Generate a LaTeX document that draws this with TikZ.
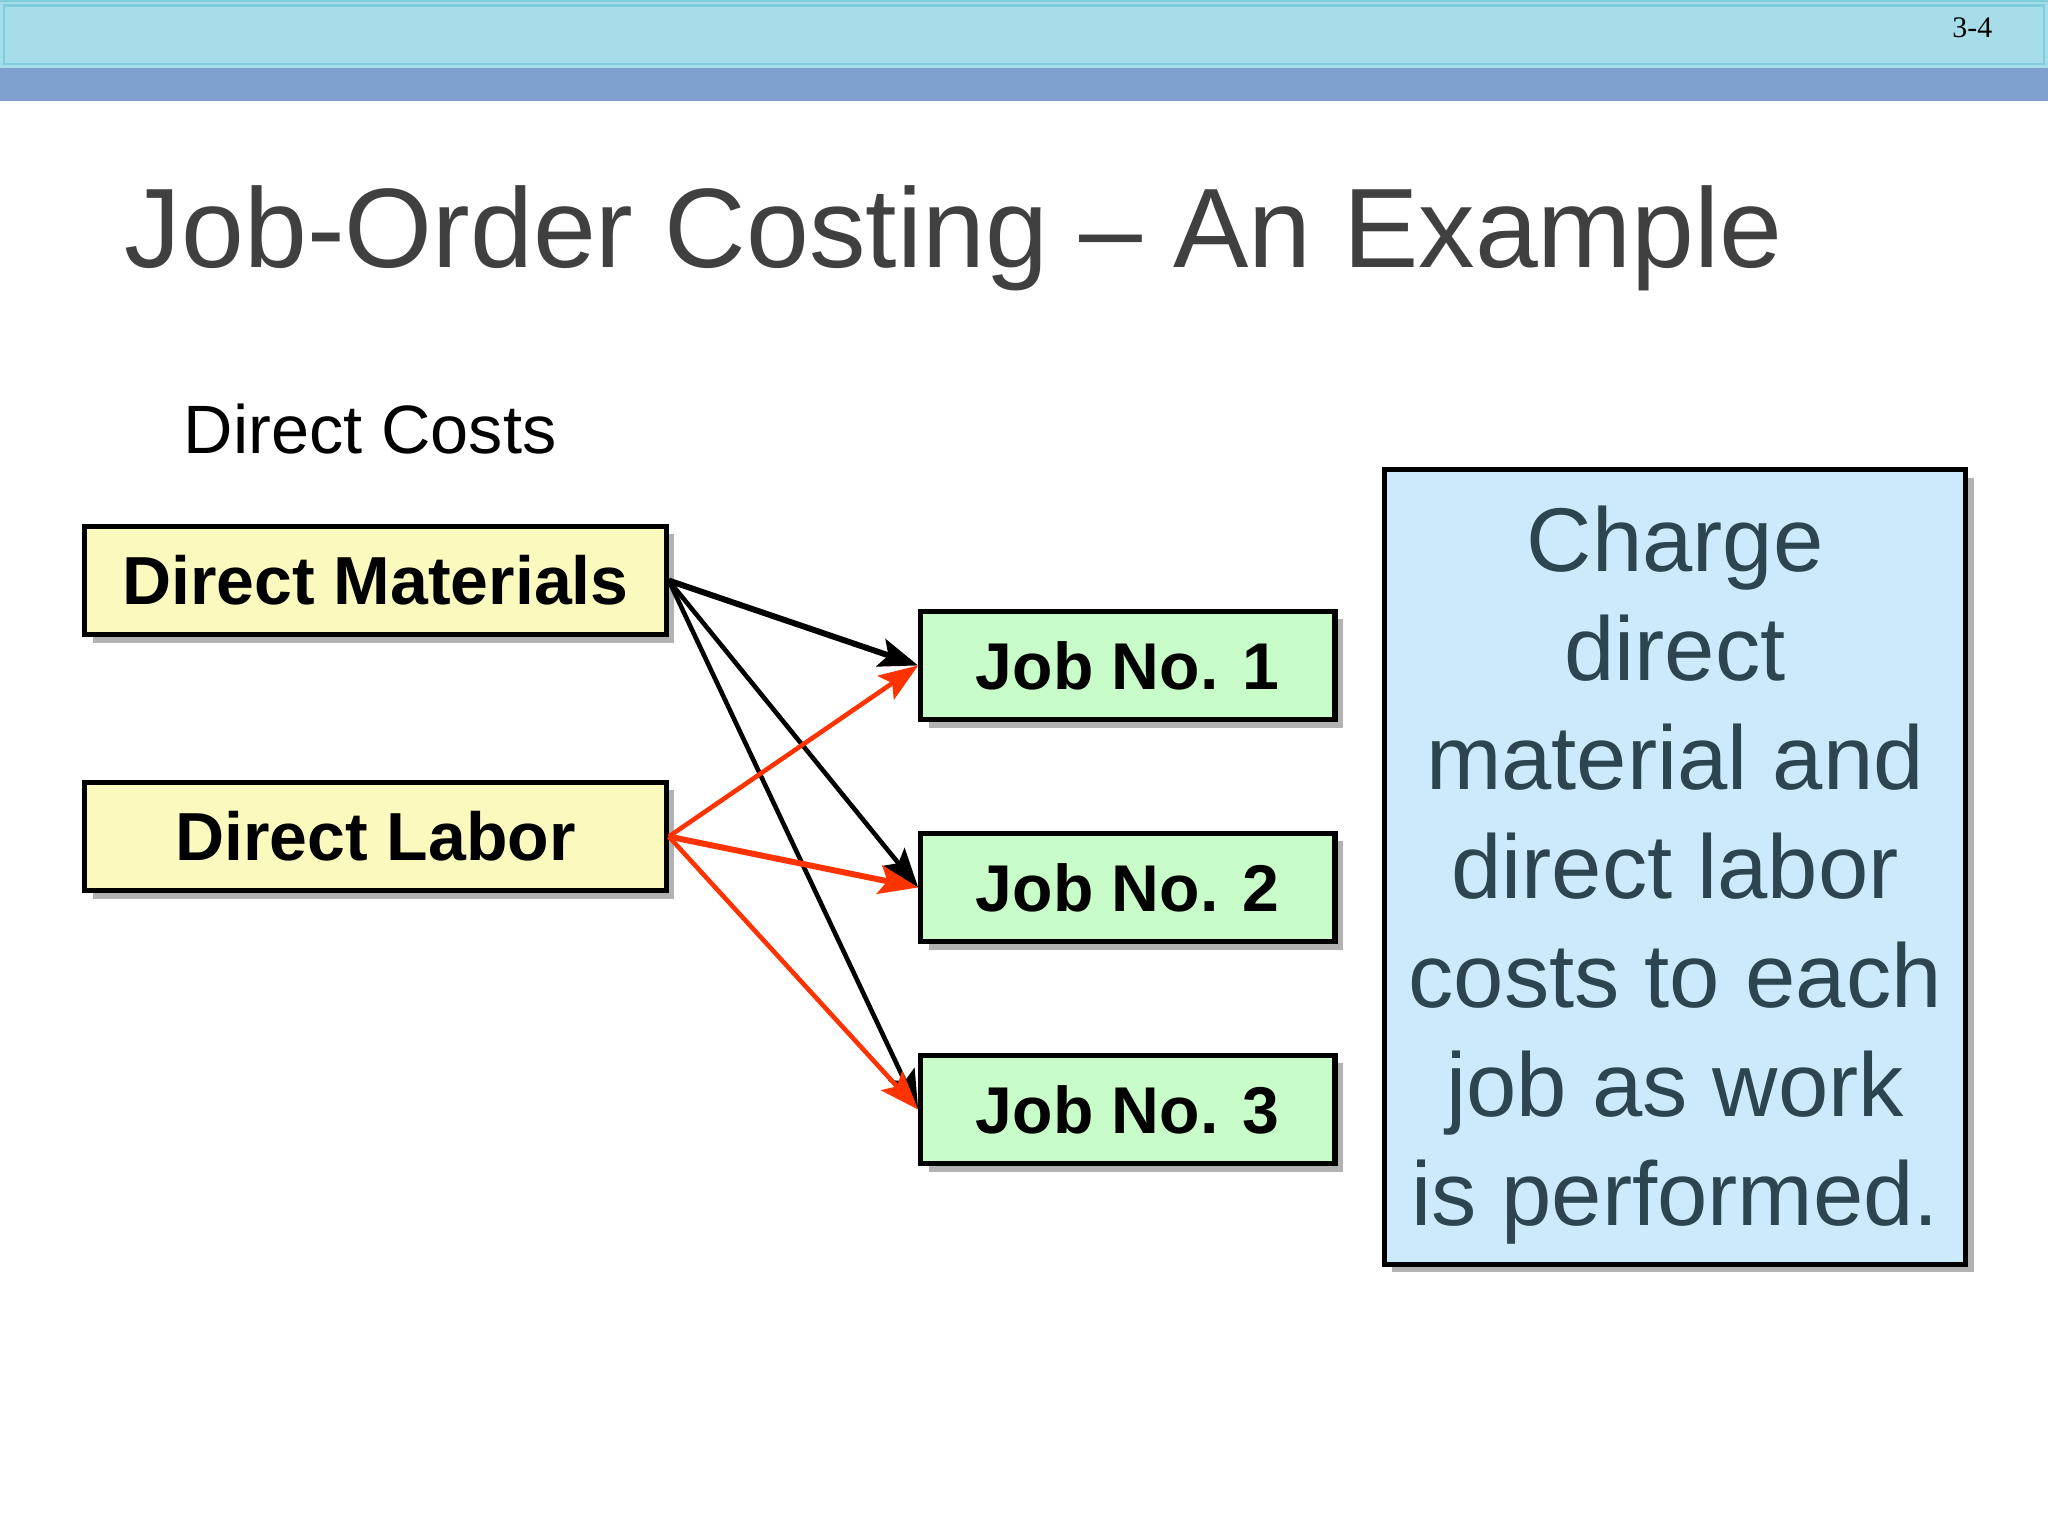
\documentclass[tikz,border=0pt]{standalone}
\usepackage{fontspec}
\setmainfont{Liberation Sans}
\newfontfamily\serifsmall{Liberation Serif}
\usetikzlibrary{shadows,arrows.meta}
\definecolor{barlight}{HTML}{A6DDE9}
\definecolor{barline}{HTML}{7FCDDC}
\definecolor{bardark}{HTML}{7F9FCF}
\definecolor{titlegray}{HTML}{404040}
\definecolor{yelfill}{HTML}{FAFABF}
\definecolor{grnfill}{HTML}{C8FCC8}
\definecolor{bluefill}{HTML}{CCEAFB}
\definecolor{slate}{HTML}{2C4550}
\definecolor{arrred}{HTML}{FF3300}
\tikzset{
  costbox/.style={draw=black, line width=1.1pt, fill=yelfill, minimum width=44.5mm, minimum height=8.3mm, inner sep=0pt,
    font=\fontsize{14.8pt}{17pt}\selectfont\bfseries,
    drop shadow={shadow xshift=0.6mm, shadow yshift=-0.6mm, opacity=0.3, fill=black}},
  jobbox/.style={costbox, fill=grnfill, minimum width=31.7mm, font=\fontsize{14.4pt}{17pt}\selectfont\bfseries},
  notebox/.style={draw=black, line width=1.1pt, fill=bluefill, minimum width=44.5mm, minimum height=60.8mm, inner sep=0pt,
    drop shadow={shadow xshift=0.6mm, shadow yshift=-0.6mm, opacity=0.3, fill=black}},
  blk/.style={draw=black, line width=1pt, -{Stealth[length=3mm,width=2.2mm,inset=0.6mm]}},
  blkthick/.style={blk, line width=1.3pt},
  red/.style={draw=arrred, line width=1pt, -{Stealth[length=3mm,width=2.2mm,inset=0.6mm]}},
  redthick/.style={red, line width=1.3pt},
}
\begin{document}
\begin{tikzpicture}[x=0.01cm, y=-0.01cm]
\useasboundingbox (0,0) rectangle (1568,1176);
% header bars
\fill[barlight] (0,0) rectangle (1568,52);
\draw[barline, line width=0.5pt] (0,1) -- (1568,1);
\draw[barline, line width=0.6pt] (3,4) rectangle (1565,49);
\fill[bardark] (0,52) rectangle (1568,77);
\node[anchor=base east, inner sep=0pt, font=\serifsmall\fontsize{6.5pt}{7pt}\selectfont] (pg) at (1526,29) {3-4};
% title
\node[anchor=base west, inner sep=0pt, text=titlegray, font=\fontsize{24.6pt}{28pt}\selectfont] (title) at (95,205) {Job-Order Costing -- An Example};
\node[anchor=base west, inner sep=0pt, font=\fontsize{14.9pt}{17pt}\selectfont] (dc) at (140,347) {Direct Costs};
% boxes
\node[costbox] (dm) at (287.5,444.5) {Direct Materials};
\node[costbox] (dl) at (287.5,640.5) {Direct Labor};
\node[jobbox] (j1) at (863.5,509.5) {Job No. 1};
\node[jobbox] (j2) at (863.5,679.5) {Job No. 2};
\node[jobbox] (j3) at (863.5,849.5) {Job No. 3};
\node[notebox] (note) at (1282.5,664) {};
\node[text=slate, align=center, inner sep=0pt, font=\fontsize{19.7pt}{23.7pt}\selectfont] (notetxt) at (1282.5,670) {Charge\\direct\\material and\\direct labor\\costs to each\\job as work\\is performed.};
% arrows
\draw[blkthick] (dm.east) -- (j1.west);
\draw[blk] (dm.east) -- (j2.west);
\draw[blk] (dm.east) -- (j3.west);
\draw[red] (dl.east) -- (j1.west);
\draw[redthick] (dl.east) -- (j2.west);
\draw[red] (dl.east) -- (j3.west);
\end{tikzpicture}
\end{document}
